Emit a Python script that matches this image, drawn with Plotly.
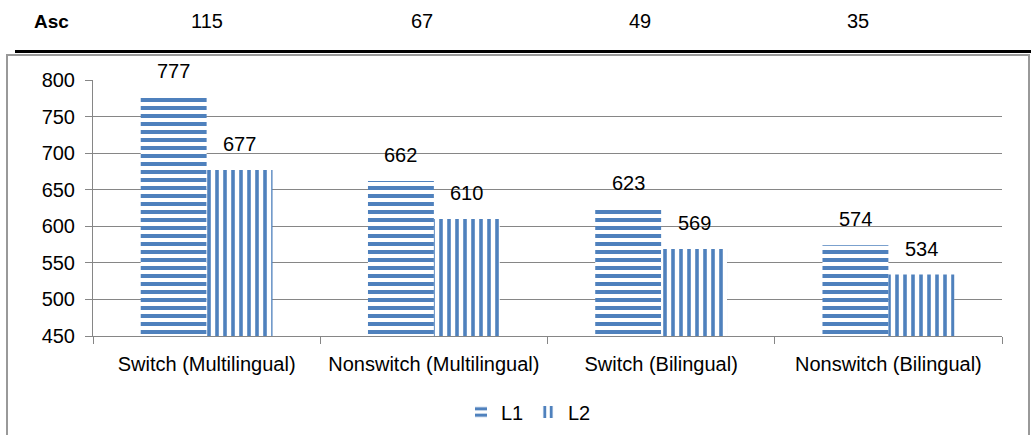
import plotly.graph_objects as go

# Reaction-time style means per group, two languages
categories = ["Switch (Multilingual)", "Nonswitch (Multilingual)",
              "Switch (Bilingual)", "Nonswitch (Bilingual)"]
l1_values = [777, 662, 623, 574]
l2_values = [677, 610, 569, 534]
asc_label = "Asc"
asc_values = [115, 67, 49, 35]

W, H = 1031, 435
# plot area in pixels
PL, PR, PT, PB = 93, 1002, 80, 336
BLUE = "#4F81BD"
GRID = "#868686"
FONT = "Liberation Sans, Arial, sans-serif"


def px_x(px):
    return (px - PL) / (PR - PL)


def px_y(py):
    return (PB - py) / (PB - PT)


fig = go.Figure()
fig.add_trace(go.Bar(
    name="L1", x=categories, y=l1_values,
    marker=dict(color="white", line=dict(width=0),
                pattern=dict(shape="-", fgcolor=BLUE, bgcolor="white",
                             size=8, solidity=0.5, fillmode="replace")),
))
fig.add_trace(go.Bar(
    name="L2", x=categories, y=l2_values,
    marker=dict(color="white", line=dict(width=0),
                pattern=dict(shape="|", fgcolor=BLUE, bgcolor="white",
                             size=8, solidity=0.45, fillmode="replace")),
))

annotations = []
# value labels above each bar
for cat, v1, v2 in zip(categories, l1_values, l2_values):
    for val, shift in ((v1, -33), (v2, 33)):
        annotations.append(dict(
            x=cat, y=val, xref="x", yref="y", text=str(val),
            showarrow=False, xshift=shift, yshift=13, yanchor="bottom",
            font=dict(family=FONT, size=20, color="black")))

# header row above the chart box
asc_centers = [207, 422, 640, 858]
annotations.append(dict(
    x=px_x(51), y=px_y(21), xref="paper", yref="paper",
    text="<b>" + asc_label + "</b>",
    showarrow=False, xanchor="center", yanchor="middle",
    font=dict(family=FONT, size=19, color="black")))
for cx, val in zip(asc_centers, asc_values):
    annotations.append(dict(
        x=px_x(cx), y=px_y(21), xref="paper", yref="paper", text=str(val),
        showarrow=False, xanchor="center", yanchor="middle",
        font=dict(family=FONT, size=20, color="black")))

shapes = [
    # thick rule under the header row
    dict(type="line", xref="paper", yref="paper",
         x0=px_x(15), x1=px_x(1031), y0=px_y(51.5), y1=px_y(51.5),
         line=dict(color="black", width=3)),
    # chart box border
    dict(type="rect", xref="paper", yref="paper",
         x0=px_x(7), x1=px_x(1029), y0=px_y(440), y1=px_y(55),
         line=dict(color="#999999", width=2), layer="below"),
]

fig.update_layout(
    width=W, height=H,
    margin=dict(l=PL, r=W - PR, t=PT, b=H - PB, pad=0, autoexpand=False),
    paper_bgcolor="white", plot_bgcolor="white",
    barmode="group", bargap=0.42, bargroupgap=0,
    font=dict(family=FONT, size=20, color="black"),
    showlegend=True,
    legend=dict(orientation="h", x=px_x(528), y=px_y(412),
                xanchor="center", yanchor="middle",
                font=dict(family=FONT, size=20, color="black"),
                itemwidth=30, entrywidth=22, tracegroupgap=0),
    annotations=annotations,
    shapes=shapes,
)
fig.update_yaxes(
    range=[450, 800], dtick=50, showgrid=True, gridcolor=GRID, gridwidth=1,
    showline=True, linecolor=GRID, linewidth=1, automargin=False,
    ticks="outside", ticklen=7, tickcolor=GRID, zeroline=False,
    ticklabelstandoff=6,
    tickfont=dict(family=FONT, size=20, color="black"))
fig.update_xaxes(
    showline=True, linecolor=GRID, linewidth=1, automargin=False,
    ticks="outside", ticklen=7, tickcolor=GRID, tickson="boundaries",
    ticklabelstandoff=10,
    tickfont=dict(family=FONT, size=20, color="black"))

fig.write_html("out.html")
